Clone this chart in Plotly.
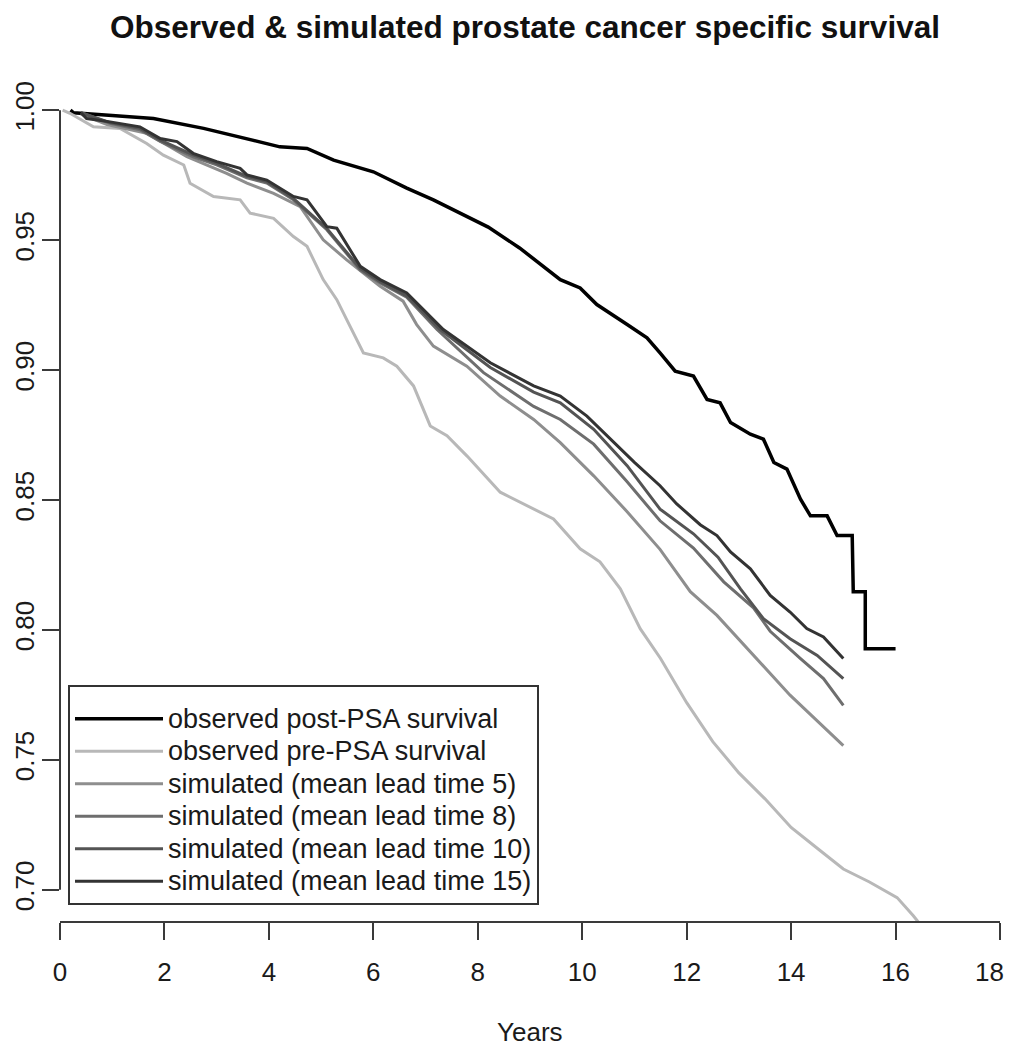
import plotly.graph_objects as go

# ---------------- data ----------------
x_ticks = [0, 2, 4, 6, 8, 10, 12, 14, 16, 18]
x_tick_labels = ["0", "2", "4", "6", "8", "10", "12", "14", "16", "18"]
y_ticks = [0.70, 0.75, 0.80, 0.85, 0.90, 0.95, 1.00]
y_tick_labels = ["0.70", "0.75", "0.80", "0.85", "0.90", "0.95", "1.00"]

post_x = [0.2, 0.26, 1.0, 1.79, 2.75, 3.58, 4.21, 4.73, 5.24, 6.0, 6.64, 7.15, 7.66, 8.2, 8.8,
          9.58, 9.96, 10.28, 10.86, 11.24, 11.49, 11.78, 12.13, 12.39, 12.64, 12.84, 13.22,
          13.47, 13.67, 13.92, 14.18, 14.37, 14.69, 14.88, 15.17, 15.19, 15.42, 15.42, 16.0]
post_y = [1.0, 0.999, 0.998, 0.9968, 0.993, 0.9891, 0.9859, 0.9853, 0.9808, 0.9763, 0.970, 0.9655,
          0.9604, 0.955, 0.947, 0.9348, 0.9316, 0.9252, 0.9175, 0.9124, 0.9066, 0.8996, 0.8977,
          0.8887, 0.8874, 0.8798, 0.8753, 0.8734, 0.8644, 0.8619, 0.8503, 0.8439, 0.8439, 0.8363,
          0.8363, 0.8147, 0.8147, 0.7928, 0.7928]

pre_x = [0.05, 0.19, 0.64, 1.15, 1.66, 1.98, 2.37, 2.49, 2.94, 3.45, 3.64, 4.09, 4.47, 4.73, 5.04,
         5.30, 5.49, 5.81, 6.19, 6.45, 6.77, 7.09, 7.41, 7.8, 8.43, 8.94, 9.45, 9.96, 10.34, 10.73,
         11.11, 11.5, 12.0, 12.5, 13.0, 13.5, 14.0, 14.5, 15.0, 15.5, 16.03, 16.34, 16.5]
pre_y = [1.0, 0.9988, 0.9936, 0.993, 0.9872, 0.9827, 0.9789, 0.9719, 0.9668, 0.9655, 0.9604,
         0.9584, 0.9514, 0.9476, 0.9348, 0.9271, 0.9194, 0.9066, 0.9047, 0.9015, 0.8939, 0.8785,
         0.8747, 0.8668, 0.853, 0.8477, 0.8427, 0.8312, 0.8262, 0.8158, 0.8005, 0.789, 0.772,
         0.757, 0.745, 0.735, 0.724, 0.716, 0.708, 0.703, 0.697, 0.690, 0.686]

sim5_x = [0.4, 0.9, 1.66, 2.43, 3.19, 3.58, 4.09, 4.6, 5.04, 5.49, 6.13, 6.57, 6.83, 7.15, 7.79,
          8.43, 9.07, 9.58, 10.22, 10.86, 11.49, 12.07, 12.58, 13.22, 13.73, 13.98, 14.5, 15.0]
sim5_y = [0.9985, 0.9945, 0.9911, 0.9821, 0.9757, 0.9719, 0.968, 0.9629, 0.9501, 0.9424, 0.9322,
          0.9265, 0.9175, 0.9092, 0.9015, 0.89, 0.881, 0.8721, 0.8593, 0.8455, 0.831, 0.8147,
          0.8056, 0.7915, 0.78, 0.7749, 0.765, 0.7555]

sim8_x = [0.4, 0.96, 1.53, 1.92, 2.55, 3.0, 3.58, 3.96, 4.47, 5.11, 5.75, 6.13, 6.64, 7.22, 8.11,
          9.07, 9.58, 10.22, 10.86, 11.49, 12.13, 12.71, 13.28, 13.6, 14.18, 14.62, 15.0]
sim8_y = [0.999, 0.995, 0.9925, 0.988, 0.982, 0.979, 0.974, 0.972, 0.9655, 0.954, 0.9385, 0.9335,
          0.928, 0.9156, 0.899, 0.886, 0.881, 0.8715, 0.857, 0.842, 0.8315, 0.8185, 0.8085, 0.7995,
          0.789, 0.7813, 0.771]

sim10_x = [0.4, 0.96, 1.53, 1.92, 2.55, 3.0, 3.58, 3.96, 4.47, 5.11, 5.75, 6.13, 6.64, 7.28, 8.24,
           9.07, 9.58, 10.22, 10.86, 11.49, 12.13, 12.6, 13.03, 13.47, 13.98, 14.5, 15.0]
sim10_y = [0.999, 0.9952, 0.993, 0.9885, 0.9828, 0.9795, 0.9745, 0.9725, 0.966, 0.9545, 0.939, 0.934,
           0.9285, 0.9156, 0.901, 0.8915, 0.8874, 0.8772, 0.8632, 0.8465, 0.837, 0.828, 0.8158,
           0.8043, 0.7966, 0.7902, 0.7813]

sim15_x = [0.4, 0.51, 0.96, 1.53, 1.92, 2.24, 2.55, 3.0, 3.45, 3.58, 3.96, 4.47, 4.73, 5.11, 5.30,
           5.75, 6.13, 6.64, 7.34, 8.24, 9.07, 9.58, 10.09, 10.6, 11.0, 11.49, 11.81, 12.26, 12.58,
           12.84, 13.22, 13.6, 13.98, 14.3, 14.62, 15.0]
sim15_y = [0.999, 0.9968, 0.9955, 0.9936, 0.9891, 0.9879, 0.9834, 0.9802, 0.9776, 0.9751, 0.9731,
           0.9668, 0.9655, 0.9552, 0.9546, 0.9399, 0.9348, 0.9297, 0.9156, 0.9028, 0.8939, 0.89,
           0.8823, 0.8721, 0.8645, 0.8555, 0.8485, 0.8405, 0.8363, 0.83, 0.8235, 0.8133, 0.8069,
           0.8005, 0.7973, 0.789]

names = ["observed post-PSA survival", "observed pre-PSA survival",
         "simulated (mean lead time 5)", "simulated (mean lead time 8)",
         "simulated (mean lead time 10)", "simulated (mean lead time 15)"]

# ---------------- styles ----------------
colors = ["#000000", "#b8b8b8", "#8e8e8e", "#6e6e6e", "#545454", "#333333"]
widths = [3.5, 3, 3, 3, 3, 3]
FONT = "Liberation Sans, Arial, Helvetica, sans-serif"
AX = "#3a3a3a"
TXT = "#1a1a1a"

# the page body adds an 8px offset; figure coordinates = screen coordinates - 8
W, H = 1007, 1042
ML, MR, MT, MB = 52, 15, 71, 129
PW, PH = W - ML - MR, H - MT - MB

xs = [post_x, pre_x, sim5_x, sim8_x, sim10_x, sim15_x]
ys = [post_y, pre_y, sim5_y, sim8_y, sim10_y, sim15_y]

fig = go.Figure()
for n, x, y, c, w in zip(names, xs, ys, colors, widths):
    fig.add_trace(go.Scatter(
        x=x, y=y, mode="lines", name='<span style="font-size:27px">' + n + "</span>",
        line=dict(color=c, width=w), hovertemplate=n + "<br>%{x}, %{y}<extra></extra>"))

# last x tick label is right-aligned on its tick so it stays inside the page
xt_text = x_tick_labels[:-1] + [""]

fig.update_layout(
    width=W, height=H,
    margin=dict(l=ML, r=MR, t=MT, b=MB, autoexpand=False),
    paper_bgcolor="white", plot_bgcolor="white",
    font=dict(family=FONT, size=26, color=TXT),
    showlegend=True,
    title=dict(text="<b>Observed & simulated prostate cancer specific survival</b>",
               x=0.5 - 5 / PW, xref="paper", xanchor="center",
               y=1.0 - 8 / H, yref="container", yanchor="top", pad=dict(t=0, b=0),
               font=dict(family=FONT, size=31.5, color="#111111")),
    legend=dict(x=8 / PW, y=(PH + MT - 677) / PH, xanchor="left", yanchor="top",
                bgcolor="white", bordercolor="#333333", borderwidth=2,
                font=dict(family=FONT, size=22.7, color=TXT),
                title=dict(text=" ", font=dict(size=8)),
                itemwidth=88, tracegroupgap=0),
    xaxis=dict(range=[0, 18], tickvals=x_ticks, ticktext=xt_text,
               automargin=False,
               showgrid=False, zeroline=False, showline=True, linecolor=AX, linewidth=2,
               ticks="outside", ticklen=17, tickwidth=2, tickcolor=AX,
               ticklabelstandoff=10,
               tickfont=dict(size=26, color=TXT)),
    yaxis=dict(range=[0.688, 1.012], tickvals=y_ticks, ticktext=y_tick_labels,
               automargin=False,
               showgrid=False, zeroline=False, showline=False,
               ticks="outside", ticklen=17, tickwidth=2, tickcolor=AX, tickangle=-90,
               ticklabelstandoff=-2,
               tickfont=dict(size=26, color=TXT)),
    annotations=[
        dict(text="Years", x=0.5, xref="paper", y=-(1024 - (H - MB)) / PH,
             yref="paper", showarrow=False, xanchor="center", yanchor="middle",
             font=dict(family=FONT, size=26, color=TXT)),
        dict(text=x_tick_labels[-1], x=x_ticks[-1], xref="x", xanchor="right", xshift=6,
             y=-(964 - (H - MB)) / PH, yref="paper", yanchor="middle", showarrow=False,
             font=dict(family=FONT, size=26, color=TXT)),
    ],
)

# R-style y axis line spanning first to last tick only
fig.add_shape(type="line", xref="paper", yref="y", x0=0, x1=0,
              y0=min(y_ticks), y1=max(y_ticks), line=dict(color=AX, width=2))

fig.write_html("out.html")
